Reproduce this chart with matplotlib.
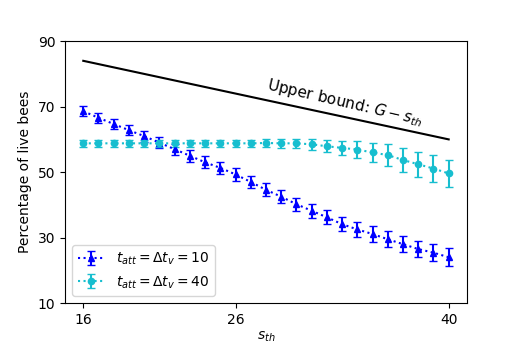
import matplotlib
matplotlib.use("Agg")
import matplotlib.pyplot as plt
import numpy as np

s_th = list(range(16, 41))
blue_vals = [68.6, 66.6, 64.7, 62.8, 61.0, 59.0, 57.0, 55.0, 53.0, 51.3, 49.3, 47.0, 44.6,
             42.5, 40.2, 38.2, 36.2, 34.1, 32.5, 31.1, 29.5, 28.0, 26.5, 25.4, 24.0]
blue_err = [1.5, 1.6, 1.6, 1.6, 1.7, 1.7, 1.7, 1.8, 1.8, 1.8, 1.9, 1.9, 2.0,
            2.0, 2.0, 2.1, 2.1, 2.2, 2.2, 2.3, 2.4, 2.4, 2.5, 2.6, 2.8]
cyan_vals = [58.8, 58.8, 58.8, 58.8, 58.8, 58.8, 58.8, 58.8, 58.8, 58.8, 58.8, 58.8, 58.9,
             58.8, 58.8, 58.5, 57.9, 57.4, 56.9, 56.0, 55.2, 53.7, 52.4, 51.1, 49.6]
cyan_err = [1.0, 1.0, 1.0, 1.0, 1.0, 1.0, 1.0, 1.0, 1.0, 1.0, 1.0, 1.1, 1.2,
            1.3, 1.4, 1.6, 1.8, 2.1, 2.5, 3.0, 3.4, 3.7, 3.9, 4.0, 4.1]
G = 100
bound_x = [16, 40]
bound_y = [G - 16, G - 40]

fig = plt.figure(figsize=(5.2, 3.46), dpi=100)
ax = fig.add_axes([0.125, 0.124, 0.773, 0.757])

ax.plot(bound_x, bound_y, color='black', linewidth=1.5)
ax.errorbar(s_th, blue_vals, yerr=blue_err, fmt='^:', color='b', markersize=5,
            capsize=3, linewidth=1.5, label=r'$t_{att}=\Delta t_v=10$')
ax.errorbar(s_th, cyan_vals, yerr=cyan_err, fmt='o:', color='#17becf', markersize=4.5,
            capsize=3, linewidth=1.5, label=r'$t_{att}=\Delta t_v=40$')

ax.text(33.2, 71.3, r'Upper bound: $G - s_{th}$', rotation=-13, ha='center', va='center',
        fontsize=11)

ax.set_ylim(10, 90)
ax.set_yticks([10, 30, 50, 70, 90])
ax.set_xticks([16, 26, 40])
ax.set_xlabel(r'$s_{th}$', labelpad=2)
ax.set_ylabel('Percentage of live bees')
ax.legend(loc='lower left')

fig.savefig('out.png', dpi=100)
